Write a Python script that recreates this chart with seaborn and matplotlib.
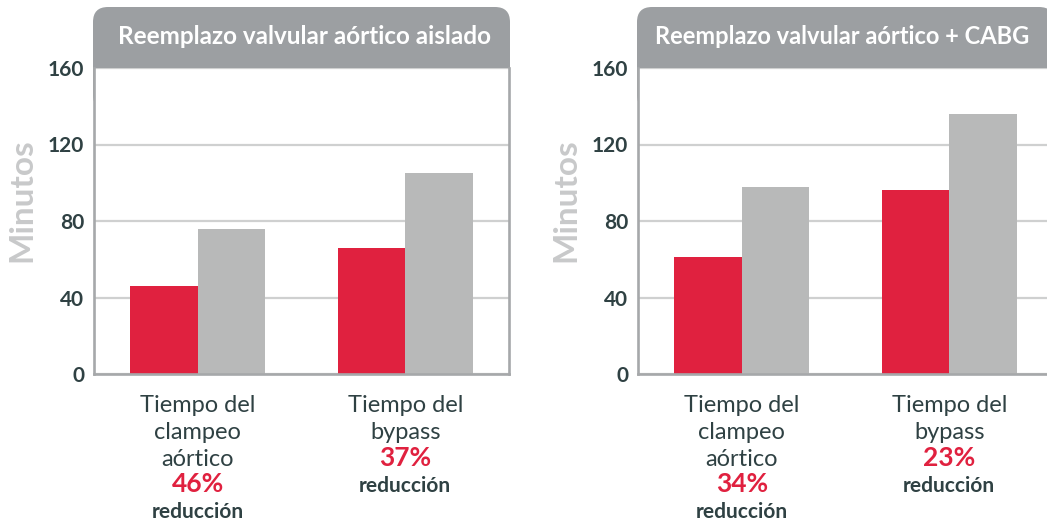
import matplotlib
matplotlib.use("Agg")
import matplotlib.pyplot as plt
from matplotlib.patches import FancyBboxPatch
from matplotlib.transforms import IdentityTransform
import seaborn as sns
import pandas as pd

# datos
categories = ["Tiempo del\nclampeo\naórtico", "Tiempo del\nbypass"]
series = ["Nuevo", "Convencional"]
titles = ["Reemplazo valvular aórtico aislado", "Reemplazo valvular aórtico + CABG"]
red_isolated = [46, 66]
gray_isolated = [76, 105]
red_cabg = [61, 96]
gray_cabg = [98, 136]
reduction_isolated = ["46%", "37%"]
reduction_cabg = ["34%", "23%"]
yticks = [0, 40, 80, 120, 160]

RED = "#e0213f"
GRAY = "#b8b9b9"
DARK = "#2f4143"
SPINE = "#a6a8aa"
GRID = "#cfd0d0"
BOX = "#9c9fa2"

sns.set_style("white")
plt.rcParams["font.family"] = ["Lato", "DejaVu Sans"]

W, H = 1047, 528
fig = plt.figure(figsize=(W / 100, H / 100), dpi=100)


def make_df(red, gray):
    rows = []
    for c, r, g in zip(categories, red, gray):
        rows.append({"cat": c, "serie": series[0], "min": r})
        rows.append({"cat": c, "serie": series[1], "min": g})
    return pd.DataFrame(rows)


def panel(left_px, red, gray, title, reductions, right_spine, title_x, title_fs):
    # ejes en pixeles -> fraccion de figura
    ax = fig.add_axes([left_px / W, 1 - 374 / H, 415 / W, 306 / H])
    df = make_df(red, gray)
    sns.barplot(data=df, x="cat", y="min", hue="serie", palette=[RED, GRAY],
                width=0.65, gap=0, saturation=1, linewidth=0, legend=False, ax=ax)
    ax.set_xlim(-0.5, 1.5)
    ax.set_ylim(0, 160)
    ax.set_yticks(yticks)
    ax.set_yticklabels([str(t) for t in yticks], fontsize=15, fontweight="bold", color=DARK)
    ax.tick_params(axis="y", length=0, pad=7)
    ax.set_xticks([0, 1])
    ax.set_xticklabels([])
    ax.tick_params(axis="x", length=0)
    ax.set_xlabel("")
    ax.set_ylabel("")
    ax.set_axisbelow(True)
    ax.yaxis.grid(True, color=GRID, lw=1.6)
    ax.spines["top"].set_visible(False)
    ax.spines["right"].set_visible(right_spine)
    for s in ["left", "bottom", "right"]:
        ax.spines[s].set_color(SPINE)
        ax.spines[s].set_linewidth(1.9)

    # cabecera gris con esquinas redondeadas
    box = FancyBboxPatch((left_px - 1, H - 110), 417, 110 - 7,
                         boxstyle="round,pad=0,rounding_size=15",
                         transform=IdentityTransform(), facecolor=BOX,
                         edgecolor="none", zorder=-1)
    fig.patches.append(box)
    fig.text(title_x / W, 1 - 37 / H, title, ha="center", va="center",
             color="white", fontsize=title_fs, fontweight="bold")

    # etiquetas de categoria con reduccion
    tr = ax.get_xaxis_transform()
    to_frac = lambda py: (374 - py) / 306
    for i, cat in enumerate(categories):
        lines = cat.split("\n")
        y = 406
        for ln in lines:
            ax.text(i, to_frac(y), ln, transform=tr, ha="center", va="center",
                    fontsize=17, color=DARK)
            y += 26.5
        ax.text(i, to_frac(y - 1), reductions[i], transform=tr, ha="center",
                va="center", fontsize=19, fontweight="bold", color=RED)
        ax.text(i, to_frac(y + 27), "reducción", transform=tr, ha="center",
                va="center", fontsize=15, fontweight="bold", color=DARK)

    fig.text((left_px - 72) / W, 1 - 200 / H, "Minutos", rotation=90,
             ha="center", va="center", fontsize=24, fontweight="bold", color="#c8c9ca")
    return ax


panel(94, red_isolated, gray_isolated, titles[0], reduction_isolated, True, 305, 17.5)
panel(638, red_cabg, gray_cabg, titles[1], reduction_cabg, False, 842, 17)

fig.savefig("out.png", dpi=100)
